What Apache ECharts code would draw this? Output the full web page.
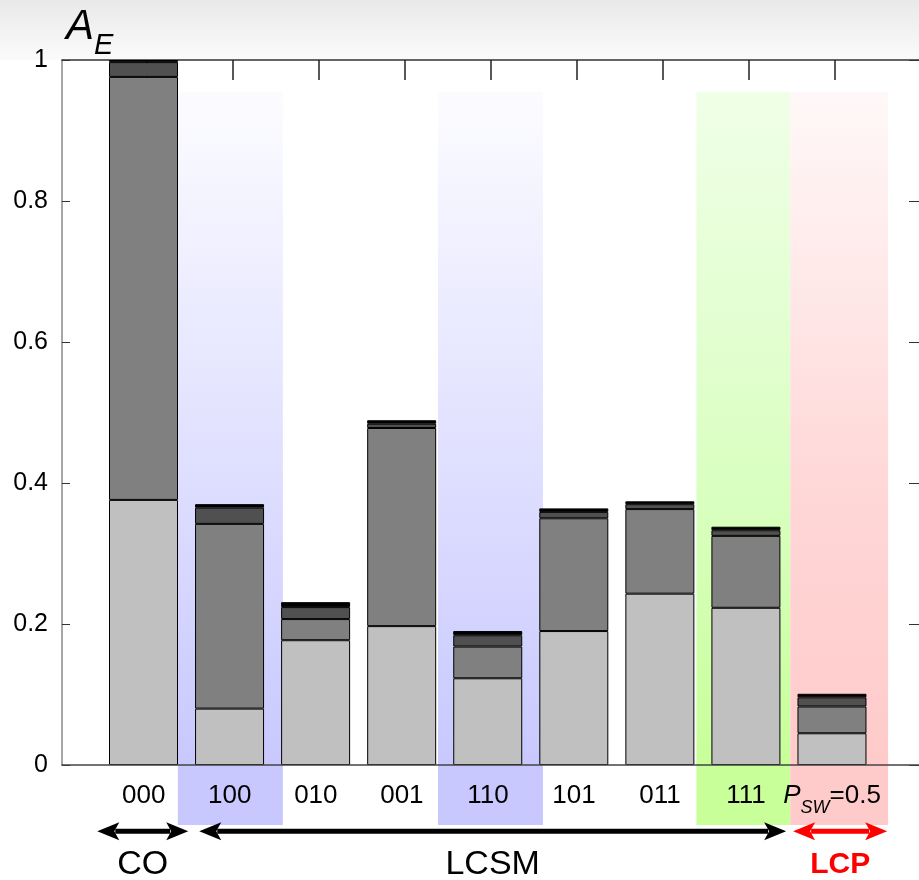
<!DOCTYPE html>
<html>
<head>
<meta charset="utf-8">
<script src="https://cdn.jsdelivr.net/npm/echarts@6/dist/echarts.min.js"></script>
<style>
  html, body { margin: 0; padding: 0; background: #fff; }
  #chart { width: 919px; height: 880px; }
</style>
</head>
<body>
<div id="chart"></div>
<script>
// categories and their positions on the frame's x axis
const categories = ['000', '100', '010', '001', '110', '101', '011', '111', 'Psw'];
const xPos = [1, 2, 3, 4, 5, 6, 7, 8, 9];

// stacked segments, bottom to top
const lightPart = [0.376, 0.080, 0.177, 0.197, 0.123, 0.190, 0.243, 0.223, 0.045];
const mediumPart = [0.600, 0.262, 0.030, 0.281, 0.045, 0.160, 0.120, 0.102, 0.038];
const darkPart = [0.021, 0.023, 0.017, 0.006, 0.016, 0.009, 0.007, 0.008, 0.013];
const topPart = [0.003, 0.005, 0.007, 0.005, 0.006, 0.005, 0.004, 0.005, 0.005];

// shaded bands behind groups (x range in axis units)
const bandRanges = [[1.397, 2.617], [4.420, 5.640], [7.423, 8.514], [8.514, 9.651]];
const bandKinds = ['blue', 'blue', 'green', 'red'];
const bandTop = 0.955;
const bandBottom = -0.085;

// group arrows below the axis
const arrowNames = ['CO', 'LCSM', 'LCP'];
const arrowRanges = [[0.46, 1.517], [1.645, 8.466], [8.547, 9.64]];
const arrowY = -0.094;

const yTicks = [0, 0.2, 0.4, 0.6, 0.8, 1];

const chart = echarts.init(document.getElementById('chart'));

function grad(stops) {
    return new echarts.graphic.LinearGradient(0, 0, 0, 1, stops.map(s => ({offset: s[0], color: s[1]})));
}
const bandColors = {
    blue: [[0, '#fcfcff'], [0.92, '#c8c8ff'], [1, '#c8c8ff']],
    green: [[0, '#f0ffe8'], [0.55, '#d9ffc0'], [0.92, '#c8ff99'], [1, '#c8ff99']],
    red: [[0, '#fff8f8'], [0.55, '#ffd7d7'], [0.92, '#ffcaca'], [1, '#ffcaca']]
};

function barSeries(name, values, color) {
    return {
        name: name,
        type: 'bar',
        stack: 'ae',
        barWidth: 69,
        xAxisIndex: 2,
        yAxisIndex: 2,
        z: 3,
        itemStyle: { color: color, borderColor: '#000', borderWidth: 1 },
        data: values
    };
}

const font = '"Liberation Sans", Arial, sans-serif';

function renderBand(params, api) {
    const p1 = api.coord([api.value(0), api.value(2)]);
    const p2 = api.coord([api.value(1), api.value(3)]);
    return {
        type: 'rect',
        shape: { x: p1[0], y: p1[1], width: p2[0] - p1[0], height: p2[1] - p1[1] },
        style: { fill: grad(bandColors[bandKinds[params.dataIndex]]) }
    };
}

function renderArrow(params, api) {
    const p1 = api.coord([api.value(0), api.value(2)]);
    const p2 = api.coord([api.value(1), api.value(2)]);
    const name = arrowNames[params.dataIndex];
    const col = name === 'LCP' ? '#ff0000' : '#000000';
    const head = 22, half = 9;
    const y = p1[1];
    return {
        type: 'group',
        children: [
            { type: 'line', shape: { x1: p1[0] + head - 4, y1: y, x2: p2[0] - head + 4, y2: y }, style: { stroke: col, lineWidth: 5 } },
            { type: 'polygon', shape: { points: [[p1[0], y], [p1[0] + head, y - half], [p1[0] + head - 5, y], [p1[0] + head, y + half]] }, style: { fill: col } },
            { type: 'polygon', shape: { points: [[p2[0], y], [p2[0] - head, y - half], [p2[0] - head + 5, y], [p2[0] - head, y + half]] }, style: { fill: col } },
            {
                type: 'text',
                style: {
                    text: name, x: (p1[0] + p2[0]) / 2, y: y + 33,
                    align: 'center', verticalAlign: 'middle', fill: col,
                    font: (name === 'LCP' ? 'bold 30px ' : '34px ') + font
                }
            }
        ]
    };
}

const option = {
    animation: false,
    textStyle: { fontFamily: font },
    graphic: [
        {
            type: 'rect', z: -10, silent: true,
            shape: { x: 0, y: 0, width: 919, height: 60 },
            style: { fill: grad([[0, '#e9e9e9'], [1, '#fbfbfb']]) }
        },
        {
            type: 'text', left: 66, top: 6, z: 10,
            style: {
                text: '{a|A}{e|E}',
                rich: {
                    a: { fontSize: 42, fontStyle: 'italic', fontFamily: font, color: '#000', verticalAlign: 'top', padding: [0, 0, 12, 0] },
                    e: { fontSize: 29, fontStyle: 'italic', fontFamily: font, color: '#000', verticalAlign: 'bottom' }
                }
            }
        }
    ],
    grid: [
        { left: 62, right: 0, top: 60, bottom: 115 },
        { left: 100.47, width: 774.54, top: 60, bottom: 115 }
    ],
    xAxis: [
        {
            type: 'value', gridIndex: 0, position: 'bottom', min: 0.05, max: 10.01,
            axisLine: { show: true, onZero: false, lineStyle: { color: '#444', width: 1.5 } },
            axisTick: { show: false },
            splitLine: { show: false },
            z: 6,
            axisLabel: {
                customValues: xPos,
                margin: 18,
                color: '#000',
                fontSize: 26,
                formatter: function (v) {
                    const c = categories[Math.round(v) - 1];
                    if (c === 'Psw') return '{p|P}{s|SW}{n|=0.5}';
                    return c;
                },
                rich: {
                    p: { fontSize: 26, fontStyle: 'italic', color: '#000', verticalAlign: 'top', padding: [0, 0, 8, 0] },
                    s: { fontSize: 18, fontStyle: 'italic', color: '#000', verticalAlign: 'bottom' },
                    n: { fontSize: 26, color: '#000', verticalAlign: 'top', padding: [0, 0, 8, 0] }
                }
            }
        },
        {
            type: 'value', gridIndex: 0, position: 'top', min: 0.05, max: 10.01,
            axisLine: { show: true, onZero: false, lineStyle: { color: '#333', width: 1.5 } },
            axisTick: { show: true, inside: true, length: 20, customValues: xPos.map(x => x + 0.03), lineStyle: { color: '#222', width: 1.5 } },
            axisLabel: { show: false },
            splitLine: { show: false }
        },
        {
            type: 'category', gridIndex: 1, data: categories, show: false
        }
    ],
    yAxis: [
        {
            type: 'value', gridIndex: 0, min: 0, max: 1, interval: 0.2,
            axisLine: { show: true, onZero: false, lineStyle: { color: '#888', width: 1.5 } },
            axisTick: { show: true, inside: true, length: 8, lineStyle: { color: '#333' } },
            splitLine: { show: false },
            axisLabel: { color: '#000', fontSize: 25, margin: 14, customValues: yTicks }
        },
        {
            type: 'value', gridIndex: 0, min: 0, max: 1, interval: 0.2, position: 'right',
            axisLine: { show: true, onZero: false, lineStyle: { color: '#444' } },
            axisTick: { show: true, inside: true, length: 10, lineStyle: { color: '#333' } },
            splitLine: { show: false },
            axisLabel: { show: false }
        },
        {
            type: 'value', gridIndex: 1, min: 0, max: 1, show: false, splitLine: { show: false }
        }
    ],
    series: [
        {
            type: 'custom', clip: false, z: 1, silent: true,
            renderItem: renderBand,
            encode: { x: [0, 1], y: [2, 3] },
            data: bandRanges.map(r => [r[0], r[1], bandTop, bandBottom])
        },
        barSeries('a', lightPart, '#c0c0c0'),
        barSeries('b', mediumPart, '#808080'),
        barSeries('c', darkPart, '#505050'),
        barSeries('d', topPart, '#000000'),
        {
            type: 'custom', clip: false, z: 5, silent: true,
            renderItem: renderArrow,
            encode: { x: [0, 1], y: 2 },
            data: arrowRanges.map(r => [r[0], r[1], arrowY])
        }
    ]
};

chart.setOption(option);
</script>
</body>
</html>
